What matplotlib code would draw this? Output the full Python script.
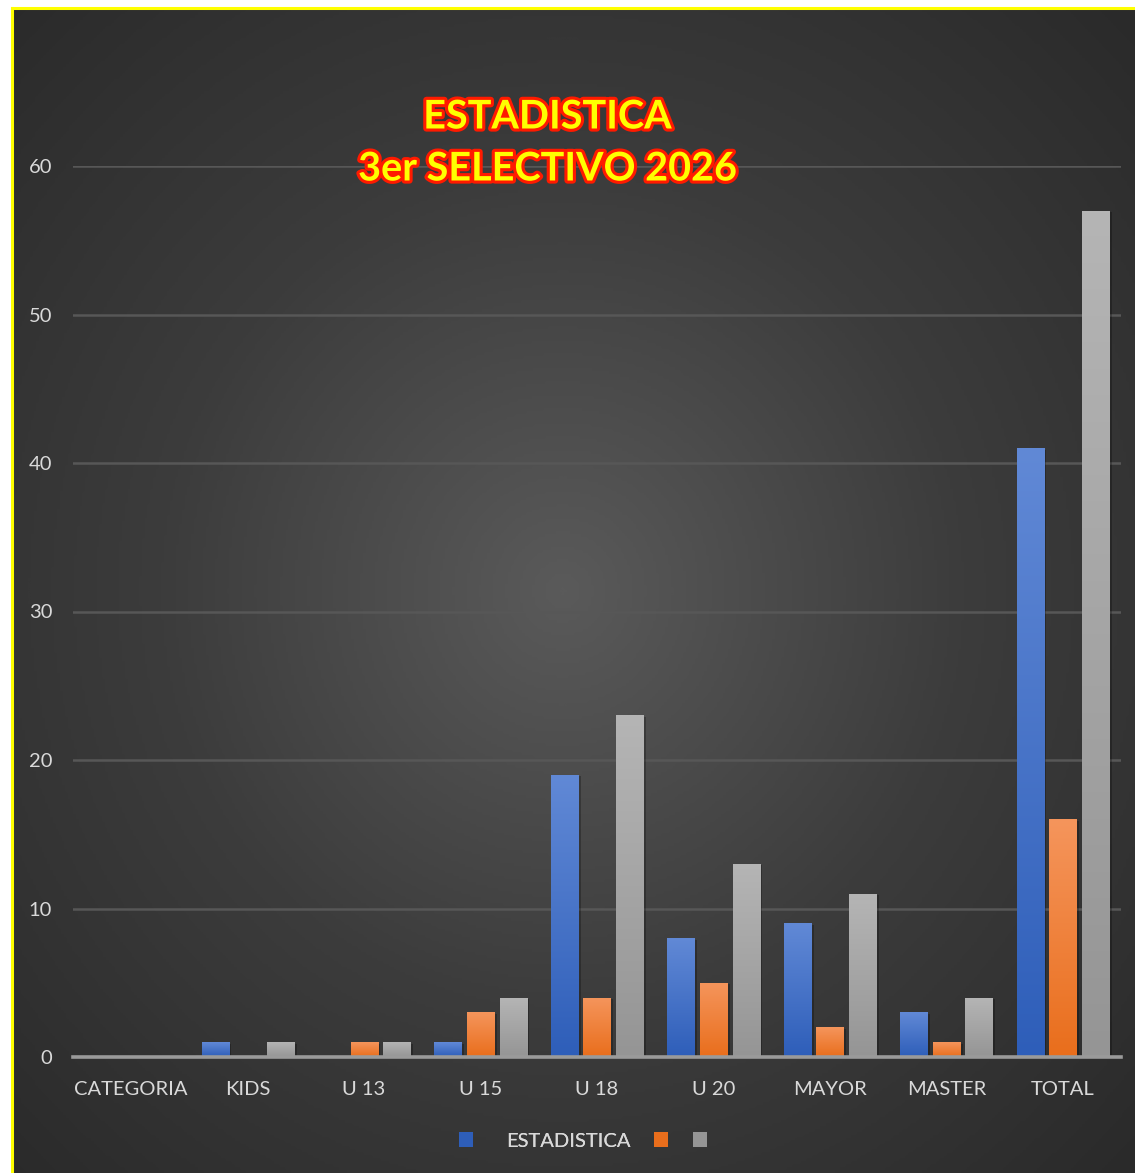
import numpy as np
import matplotlib.pyplot as plt
import matplotlib.patheffects as pe
from matplotlib.lines import Line2D
from matplotlib.patches import Patch
from matplotlib.colors import LinearSegmentedColormap

categorias = ['CATEGORIA', 'KIDS', 'U 13', 'U 15', 'U 18', 'U 20', 'MAYOR', 'MASTER', 'TOTAL']
serie_azul = [0, 1, 0, 1, 19, 8, 9, 3, 41]
serie_naranja = [0, 0, 1, 3, 4, 5, 2, 1, 16]
serie_gris = [0, 1, 1, 4, 23, 13, 11, 4, 57]
nombres = ['ESTADISTICA', '', '']
yticks = [0, 10, 20, 30, 40, 50, 60]

plt.rcParams['font.family'] = ['Lato', 'DejaVu Sans']

W, H = 1135, 1173
fig = plt.figure(figsize=(W / 100, H / 100), dpi=100, facecolor='white')

# fondo con degradado radial
bg = fig.add_axes([13 / W, 0, 1 - 13 / W, 1 - 9 / H])
bg.set_axis_off()
yy, xx = np.mgrid[0:1:400j, 0:1:400j]
r = np.sqrt((xx - 0.49) ** 2 + (yy - 0.5) ** 2)
r = np.clip(r / 0.72, 0, 1)
cmap_bg = LinearSegmentedColormap.from_list('bg', ['#5a5a5a', '#3c3c3c', '#2a2a2a'])
bg.imshow(r, cmap=cmap_bg, extent=[0, 1, 0, 1], aspect='auto', origin='upper')
bg.set_xlim(0, 1)
bg.set_ylim(0, 1)

# borde amarillo
fig.add_artist(Line2D([12 / W, 1], [1 - 8 / H, 1 - 8 / H], color='#ffff00', lw=2.2, transform=fig.transFigure))
fig.add_artist(Line2D([12 / W, 12 / W], [0, 1 - 8 / H], color='#ffff00', lw=2.2, transform=fig.transFigure))

ax = fig.add_axes([73 / W, 116 / H, 1048 / W, (1057 - 166) / H])
ax.patch.set_alpha(0)

x = np.arange(len(categorias))
ancho = 0.232
paso = 0.28
colores = [('#6189d6', '#2e5eb9'), ('#f5955c', '#e96e1c'), ('#b5b5b5', '#959595')]
series = [serie_azul, serie_naranja, serie_gris]

for i, (vals, (c_top, c_bot)) in enumerate(zip(series, colores)):
    bars = ax.bar(x + (i - 1) * paso, vals, ancho, color=c_bot, zorder=3, label=nombres[i],
                  path_effects=[pe.SimplePatchShadow(offset=(2, -1), shadow_rgbFace='black', alpha=0.25), pe.Normal()])
    cm = LinearSegmentedColormap.from_list('g%d' % i, [c_bot, c_top])
    grad = np.linspace(0, 1, 256).reshape(-1, 1)
    for b in bars:
        if b.get_height() <= 0:
            continue
        x0, w, h = b.get_x(), b.get_width(), b.get_height()
        im = ax.imshow(grad, cmap=cm, extent=[x0, x0 + w, 0, h], aspect='auto', origin='lower', zorder=4)
        im.set_clip_path(b)

ax.set_xlim(-0.5, len(categorias) - 0.5)
ax.set_ylim(0, 60)
ax.set_yticks(yticks)
ax.set_xticks(x)
ax.set_xticklabels(categorias)
ax.grid(axis='y', color='#575757', lw=1.8, zorder=0)
ax.set_axisbelow(True)
for s in ['top', 'right', 'left']:
    ax.spines[s].set_visible(False)
ax.spines['bottom'].set_color('#9a9a9a')
ax.spines['bottom'].set_linewidth(2.6)
ax.spines['bottom'].set_zorder(5)
ax.tick_params(axis='both', length=0, colors='#d9d9d9', labelsize=14.5)
ax.tick_params(axis='x', pad=17)
ax.tick_params(axis='y', pad=15)

# titulo
efecto = [pe.withStroke(linewidth=4.5, foreground='#ff1a00')]
fig.text(548 / W, 1 - 117 / H, 'ESTADISTICA', ha='center', va='center', fontsize=28.5,
         fontweight='bold', color='#ffff00', path_effects=efecto)
fig.text(548 / W, 1 - 169 / H, '3er SELECTIVO 2026', ha='center', va='center', fontsize=28.5,
         fontweight='bold', color='#ffff00', path_effects=efecto)

# leyenda
fs = 14.5
px = fs * 100 / 72
handles = [Patch(facecolor=c[1]) for c in colores]
leg1 = fig.legend(handles[:1], nombres[:1], loc='center left', bbox_to_anchor=(459 / W, 1 - 1141 / H),
                  frameon=False, fontsize=fs, handlelength=14 / px, handleheight=15 / px,
                  handletextpad=33 / px, borderpad=0, borderaxespad=0, labelcolor='#d9d9d9')
fig.add_artist(leg1)
leg2 = fig.legend(handles[1:], nombres[1:], loc='center left', bbox_to_anchor=(654 / W, 1 - 1141 / H),
                  ncol=2, frameon=False, fontsize=fs, handlelength=14 / px, handleheight=15 / px,
                  handletextpad=0, columnspacing=25 / px, borderpad=0, borderaxespad=0)

fig.savefig('out.png', dpi=100, facecolor='white')
